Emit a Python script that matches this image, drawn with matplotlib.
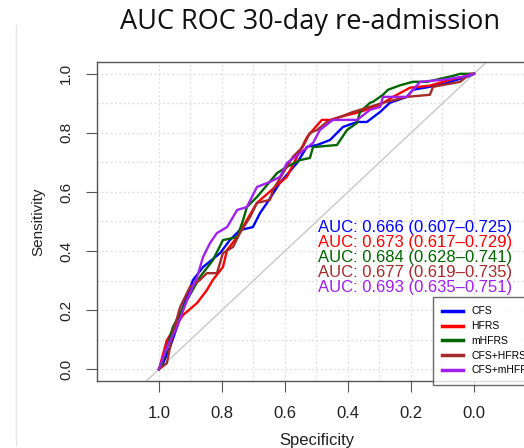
import numpy as np
import matplotlib.pyplot as plt
from matplotlib.lines import Line2D

# courbes ROC (specificite, sensibilite)
cfs_spec = [1.0, 0.987, 0.965, 0.943, 0.924, 0.892, 0.860, 0.806, 0.775, 0.743, 0.702, 0.679, 0.657, 0.616,
            0.562, 0.530, 0.498, 0.457, 0.416, 0.371, 0.340, 0.298, 0.267, 0.213, 0.194, 0.140, 0.086, 0.054,
            0.022, 0.0]
cfs_sens = [0.0, 0.020, 0.075, 0.142, 0.210, 0.302, 0.346, 0.393, 0.437, 0.471, 0.481, 0.529, 0.563, 0.631,
            0.698, 0.753, 0.759, 0.776, 0.820, 0.837, 0.837, 0.871, 0.902, 0.922, 0.946, 0.956, 0.969, 0.980,
            0.990, 1.0]

hfrs_spec = [1.0, 0.975, 0.924, 0.879, 0.848, 0.829, 0.797, 0.784, 0.752, 0.721, 0.689, 0.616, 0.594, 0.530,
             0.511, 0.483, 0.457, 0.425, 0.362, 0.298, 0.257, 0.203, 0.140, 0.076, 0.035, 0.0]
hfrs_sens = [0.0, 0.098, 0.183, 0.224, 0.268, 0.302, 0.346, 0.403, 0.447, 0.505, 0.563, 0.631, 0.651, 0.786,
             0.810, 0.844, 0.844, 0.854, 0.871, 0.895, 0.922, 0.953, 0.960, 0.980, 0.990, 1.0]

mhfrs_spec = [1.0, 0.990, 0.956, 0.911, 0.870, 0.829, 0.797, 0.752, 0.733, 0.721, 0.689, 0.625, 0.594, 0.552,
              0.521, 0.511, 0.435, 0.403, 0.371, 0.362, 0.330, 0.321, 0.289, 0.273, 0.235, 0.194, 0.149, 0.067,
              0.044, 0.0]
mhfrs_sens = [0.0, 0.020, 0.142, 0.234, 0.312, 0.369, 0.437, 0.447, 0.505, 0.549, 0.583, 0.664, 0.685, 0.708,
              0.715, 0.752, 0.759, 0.810, 0.834, 0.871, 0.902, 0.905, 0.929, 0.946, 0.961, 0.973, 0.973, 0.993,
              1.0, 1.0]

cfs_hfrs_spec = [1.0, 0.975, 0.956, 0.933, 0.902, 0.870, 0.848, 0.816, 0.797, 0.765, 0.743, 0.711, 0.689, 0.648,
                 0.638, 0.606, 0.575, 0.543, 0.521, 0.498, 0.467, 0.425, 0.384, 0.340, 0.289, 0.213, 0.140, 0.130,
                 0.044, 0.013, 0.0]
cfs_hfrs_sens = [0.0, 0.020, 0.122, 0.210, 0.278, 0.302, 0.325, 0.325, 0.393, 0.414, 0.461, 0.515, 0.563, 0.573,
                 0.607, 0.664, 0.719, 0.753, 0.800, 0.810, 0.837, 0.854, 0.871, 0.885, 0.902, 0.922, 0.929, 0.956,
                 0.973, 1.0, 1.0]

cfs_mhfrs_spec = [1.0, 0.975, 0.943, 0.911, 0.879, 0.860, 0.838, 0.816, 0.784, 0.765, 0.752, 0.721, 0.689, 0.648,
                  0.616, 0.594, 0.552, 0.511, 0.489, 0.448, 0.371, 0.330, 0.298, 0.289, 0.213, 0.171, 0.098, 0.035,
                  0.0]
cfs_mhfrs_sens = [0.0, 0.075, 0.142, 0.234, 0.312, 0.380, 0.427, 0.461, 0.481, 0.515, 0.539, 0.549, 0.617, 0.634,
                  0.651, 0.698, 0.732, 0.766, 0.810, 0.844, 0.844, 0.878, 0.888, 0.922, 0.922, 0.973, 0.980, 0.990,
                  1.0]

noms = ["CFS", "HFRS", "mHFRS", "CFS+HFRS", "CFS+mHFRS"]
couleurs = ["#0000FF", "#FF0000", "#006400", "#A52A2A", "#A020F0"]
auc_textes = ["AUC: 0.666 (0.607\u20130.725)", "AUC: 0.673 (0.617\u20130.729)", "AUC: 0.684 (0.628\u20130.741)",
              "AUC: 0.677 (0.619\u20130.735)", "AUC: 0.693 (0.635\u20130.751)"]

courbes = [(cfs_spec, cfs_sens), (hfrs_spec, hfrs_sens), (mhfrs_spec, mhfrs_sens),
           (cfs_hfrs_spec, cfs_hfrs_sens), (cfs_mhfrs_spec, cfs_mhfrs_sens)]

plt.rcParams['font.family'] = ['Liberation Sans', 'DejaVu Sans']

fig = plt.figure(figsize=(5.24, 4.48), dpi=100)
ax = fig.add_axes([0.185, 0.1496, 0.838, 0.7120])

# grille pointillee
for v in np.arange(0, 1.01, 0.1):
    ax.axvline(v, color="#DDDDDD", lw=0.9, ls=(0, (1.5, 2)), zorder=0)
    ax.axhline(v, color="#DDDDDD", lw=0.9, ls=(0, (1.5, 2)), zorder=0)

# diagonale
ax.plot([1.3, -0.3], [-0.3, 1.3], color="#C8C8C8", lw=1, zorder=1)

for (sp, se), c, n in zip(courbes, couleurs, noms):
    ax.plot(sp, se, color=c, lw=1.7, label=n, zorder=3)

for i, (t, c) in enumerate(zip(auc_textes, couleurs)):
    ax.text(0.495, 0.478 - i * 0.05, t, color=c, fontsize=12, ha="left", va="center", zorder=4)

ax.set_xlim(1.197, -0.197)
ax.set_ylim(-0.04, 1.04)
ax.set_xticks([1.0, 0.8, 0.6, 0.4, 0.2, 0.0])
ax.set_xticklabels(["1.0", "0.8", "0.6", "0.4", "0.2", "0.0"])
ax.set_yticks([0.0, 0.2, 0.4, 0.6, 0.8, 1.0])
ax.set_yticklabels(["0.0", "0.2", "0.4", "0.6", "0.8", "1.0"], rotation=90, va="center")
ax.tick_params(axis="x", length=8, color="#555555", labelsize=12, pad=10, labelcolor="#222222")
ax.tick_params(axis="y", length=8, color="#555555", labelsize=11, pad=9, labelcolor="#222222")
for s in ax.spines.values():
    s.set_color("#555555")
    s.set_linewidth(1)
ax.set_xlabel("Specificity", fontsize=12, labelpad=9, color="#222222")
ax.set_ylabel("Sensitivity", fontsize=11, labelpad=10, color="#222222")

leg = ax.legend(loc="upper left", bbox_to_anchor=(0.130, 0.244), bbox_transform=ax.transData,
                fontsize=7.5, frameon=True, fancybox=False, handlelength=2.0, handletextpad=0.8,
                labelspacing=0.45, borderpad=0.9, borderaxespad=0)
leg.get_frame().set_edgecolor("#444444")
leg.get_frame().set_linewidth(1)
for l in leg.get_lines():
    l.set_linewidth(2.5)

fig.text(0.592, 0.950, "AUC ROC 30-day re-admission", fontsize=19.5, family=["Open Sans", "DejaVu Sans"],
         ha="center", va="center", color="#111111")
fig.add_artist(Line2D([0.031, 0.031], [0.006, 0.944], color="#E6E6E6", lw=1))

fig.savefig("out.png", dpi=100)
